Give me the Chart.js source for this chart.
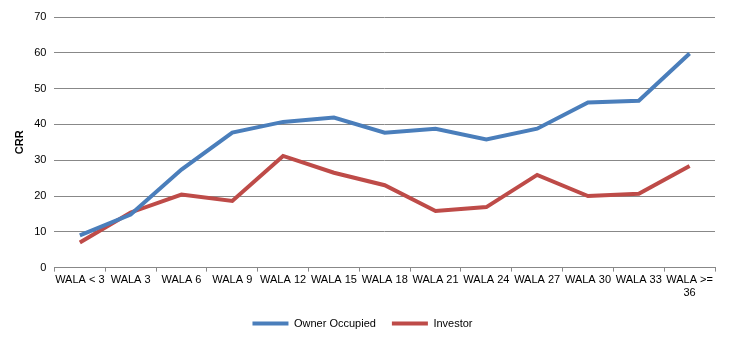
<!DOCTYPE html>
<html>
<head>
<meta charset="utf-8">
<script src="https://cdn.jsdelivr.net/npm/chart.js@4/dist/chart.umd.min.js"></script>
<style>
  html, body { margin: 0; padding: 0; background: #fff; }
  #wrap { width: 729px; height: 339px; }
</style>
</head>
<body>
<div id="wrap"><canvas id="crrChart"></canvas></div>
<script>
  // categories and series
  const labels = ['WALA < 3', 'WALA 3', 'WALA 6', 'WALA 9', 'WALA 12', 'WALA 15', 'WALA 18',
                  'WALA 21', 'WALA 24', 'WALA 27', 'WALA 30', 'WALA 33', ['WALA >=', '36']];
  const ownerOccupied = [9.0, 14.8, 27.4, 37.7, 40.7, 41.9, 37.7, 38.8, 35.8, 38.8, 46.1, 46.6, 59.8];
  const investor = [7.0, 15.4, 20.4, 18.6, 31.2, 26.5, 23.0, 15.8, 16.9, 25.9, 20.0, 20.6, 28.4];

  Chart.defaults.font.family = '"Liberation Sans", Arial, sans-serif';
  Chart.defaults.font.size = 11;
  Chart.defaults.color = '#000';

  const ctx = document.getElementById('crrChart').getContext('2d');
  const crrChart = new Chart(ctx, {
      type: 'line',
      data: {
          labels: labels,
          datasets: [{
              label: 'Owner Occupied',
              data: ownerOccupied,
              borderColor: '#4A7EBB',
              backgroundColor: '#4A7EBB',
              borderWidth: 4,
              pointRadius: 0,
              tension: 0
          }, {
              label: 'Investor',
              data: investor,
              borderColor: '#BE4B48',
              backgroundColor: '#BE4B48',
              borderWidth: 4,
              pointRadius: 0,
              tension: 0
          }]
      },
      options: {
          responsive: true,
          maintainAspectRatio: false,
          animation: false,
          layout: { padding: { top: 17, right: 14, left: 10, bottom: 0 } },
          plugins: {
              tooltip: { enabled: false },
              legend: {
                  position: 'bottom',
                  labels: {
                      usePointStyle: true,
                      pointStyle: 'line',
                      pointStyleWidth: 36,
                      padding: 16,
                      color: '#000'
                  }
              }
          },
          scales: {
              x: {
                  offset: true,
                  grid: {
                      offset: true,
                      drawOnChartArea: false,
                      drawTicks: true,
                      tickLength: 4,
                      color: '#888'
                  },
                  border: { color: '#888' },
                  ticks: { autoSkip: false, maxRotation: 0, minRotation: 0, padding: 2 }
              },
              y: {
                  min: 0,
                  max: 70,
                  ticks: { stepSize: 10, padding: 8 },
                  grid: { color: '#888', drawTicks: false },
                  border: { display: false },
                  title: {
                      display: true,
                      text: 'CRR',
                      font: { weight: 'bold', size: 11 },
                      padding: { top: 3, bottom: 0 }
                  }
              }
          }
      }
  });
</script>
</body>
</html>
